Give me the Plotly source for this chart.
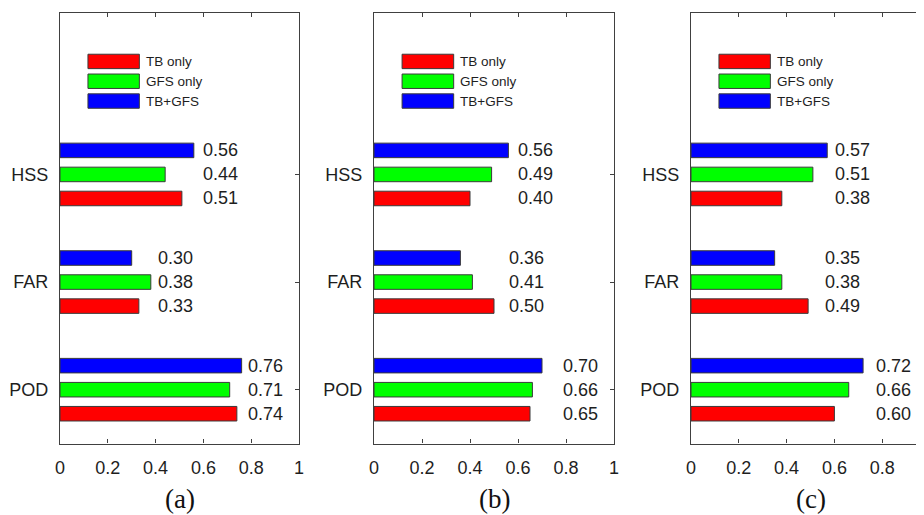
import plotly.graph_objects as go

# ---------------- data ----------------
METRICS = ["POD", "FAR", "HSS"]
SERIES = ["TB only", "GFS only", "TB+GFS"]
PANEL_TAGS = ["(a)", "(b)", "(c)"]
X_TICKS = [0, 0.2, 0.4, 0.6, 0.8, 1]
X_TICK_TEXT = ["0", "0.2", "0.4", "0.6", "0.8", "1"]

# values per panel, per series, ordered as METRICS (POD, FAR, HSS)
a_tb_only = [0.74, 0.33, 0.51]
a_gfs_only = [0.71, 0.38, 0.44]
a_tb_gfs = [0.76, 0.30, 0.56]

b_tb_only = [0.65, 0.50, 0.40]
b_gfs_only = [0.66, 0.41, 0.49]
b_tb_gfs = [0.70, 0.36, 0.56]

c_tb_only = [0.60, 0.49, 0.38]
c_gfs_only = [0.66, 0.38, 0.51]
c_tb_gfs = [0.72, 0.35, 0.57]

PANELS = [
    [a_tb_only, a_gfs_only, a_tb_gfs],
    [b_tb_only, b_gfs_only, b_tb_gfs],
    [c_tb_only, c_gfs_only, c_tb_gfs],
]

# ---------------- style / layout ----------------
COLORS = ["#FF0000", "#00FF00", "#0000FF"]
OUTLINE = "#3a3a3a"
FRAME = "#404040"
TEXT = "#1e1e1e"
SANS = "Liberation Sans, Arial, sans-serif"
SERIF = "Liberation Serif, Times New Roman, serif"

W, H = 924, 515
PAGE_OFF = 8  # default page margin around the figure div
BARGAP = 0.33
BARGROUPGAP = 0.395
PITCH = (1 - BARGAP) / 3

# pixel frames (in the page) of the three axes boxes (left, right)
BOX_X = [(60, 299), (374, 614), (691, 930)]
BOX_TOP, BOX_BOTTOM = 13, 443.5
TAG_Y = 499

# where the value-label columns start in each group (x data units), per panel
LABEL_X = [
    [0.78, 0.40, 0.59],
    [0.78, 0.555, 0.59],
    [0.766, 0.554, 0.593],
]

fig = go.Figure()

for p, panel in enumerate(PANELS):
    sfx = "" if p == 0 else str(p + 1)
    for s, vals in enumerate(panel):
        fig.add_trace(go.Bar(
            x=vals, y=METRICS, orientation="h", name=SERIES[s],
            marker=dict(color=COLORS[s], line=dict(color=OUTLINE, width=1)),
            xaxis="x" + sfx, yaxis="y" + sfx, offsetgroup=str(s),
            showlegend=False, hoverinfo="skip",
        ))

ydom = [(H - (BOX_BOTTOM - PAGE_OFF)) / H, (H - (BOX_TOP - PAGE_OFF)) / H]
annotations = []
shapes = []
for p, panel in enumerate(PANELS):
    sfx = "" if p == 0 else str(p + 1)
    l, r = BOX_X[p]
    fig.layout["xaxis" + sfx] = dict(
        domain=[(l - PAGE_OFF) / W, (r - PAGE_OFF) / W], range=[0, 1],
        anchor="y" + sfx,
        tickvals=X_TICKS, ticktext=X_TICK_TEXT,
        ticks="inside", ticklen=4, tickcolor=FRAME, tickwidth=1,
        showline=True, linecolor=FRAME, linewidth=1.2, mirror="ticks",
        showgrid=False, zeroline=False, layer="below traces",
        tickfont=dict(family=SANS, size=18, color=TEXT),
        ticklabelstandoff=8, fixedrange=True, automargin=False,
    )
    fig.layout["yaxis" + sfx] = dict(
        domain=ydom, anchor="x" + sfx, type="category",
        categoryorder="array", categoryarray=METRICS,
        range=[-0.5, 3.5],
        ticks="inside", ticklen=4, tickcolor=FRAME, tickwidth=1,
        showline=True, linecolor=FRAME, linewidth=1.2, mirror="ticks",
        showgrid=False, zeroline=False, layer="below traces",
        tickfont=dict(family=SANS, size=18, color=TEXT),
        ticklabelstandoff=7, fixedrange=True, automargin=False,
    )
    xref = "x" + sfx
    yref = "y" + sfx
    # value labels
    for s, vals in enumerate(panel):
        for m, v in enumerate(vals):
            annotations.append(dict(
                x=LABEL_X[p][m], y=m + (s - 1) * PITCH, xref=xref, yref=yref,
                text=f"{v:.2f}", showarrow=False, xanchor="left", yanchor="middle",
                font=dict(family=SANS, size=18, color=TEXT),
            ))
    # legend drawn inside each box
    for s, name in enumerate(SERIES):
        yc = 3.05 - s * 0.184
        shapes.append(dict(
            type="rect", xref=xref, yref=yref,
            x0=0.117, x1=0.332, y0=yc - 0.067, y1=yc + 0.067,
            fillcolor=COLORS[s], line=dict(color=OUTLINE, width=1),
        ))
        annotations.append(dict(
            x=0.352, y=yc, xref=xref, yref=yref, text=name, showarrow=False,
            xanchor="left", yanchor="middle",
            font=dict(family=SANS, size=13.5, color=TEXT),
        ))
    # panel tag
    annotations.append(dict(
        x=0.5, y=(H - (TAG_Y - PAGE_OFF)) / H, xref=xref, yref="paper",
        text=PANEL_TAGS[p],
        showarrow=False, xanchor="center", yanchor="middle",
        font=dict(family=SERIF, size=27, color="#111111"),
    ))

fig.update_layout(
    width=W, height=H,
    margin=dict(l=0, r=0, t=0, b=0, autoexpand=False),
    paper_bgcolor="white", plot_bgcolor="white",
    barmode="group", bargap=BARGAP, bargroupgap=BARGROUPGAP,
    showlegend=False,
    annotations=annotations, shapes=shapes,
)

fig.write_html("out.html")
